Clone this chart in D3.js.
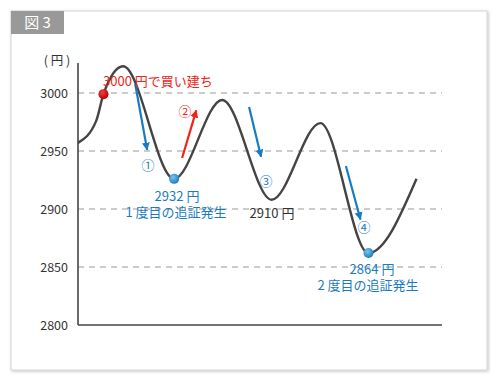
<!DOCTYPE html>
<html>
<head>
<meta charset="utf-8">
<script src="https://cdn.jsdelivr.net/npm/d3@7"></script>
<style>
  html, body { margin: 0; padding: 0; background: #fff; }
  svg { display: block; font-family: "Noto Sans CJK JP", "Noto Sans", sans-serif; }
</style>
</head>
<body>
<svg width="500" height="384"></svg>
<script>
"use strict";

// price path (time in arbitrary units, price in yen)
const pathTimes = [0, 5, 7, 12.4, 26.4, 39.6, 53.2, 66.6, 79.8, 93];
const pathPrices = [2957, 2976, 2999, 3023, 2926, 2994, 2908, 2974, 2862, 2926];

const yTicks = [2800, 2850, 2900, 2950, 3000];
const gridTicks = [2850, 2900, 2950, 3000];

// marked points: buy point and margin calls
const buyPoint = { t: 7, v: 2999 };
const callPoints = [{ t: 26.4, v: 2926 }, { t: 79.8, v: 2862 }];

// arrows [t0, v0, t1, v1, colour]
const arrows = [
  [15.7, 3008, 19, 2951, "#1a7cc0"],
  [28.6, 2944, 32.5, 2985, "#f02418"],
  [47, 2988, 50.3, 2945, "#1a7cc0"],
  [73.6, 2937, 77.6, 2891, "#1a7cc0"]
];

const svg = d3.select("svg");

const x = d3.scaleLinear().domain([0, 100]).range([78, 442]);
const y = d3.scaleLinear().domain([2800, 3000]).range([325, 93]);

const defs = svg.append("defs");
const shadow = defs.append("filter").attr("id", "shadow")
  .attr("x", "-5%").attr("y", "-5%").attr("width", "110%").attr("height", "110%");
shadow.append("feDropShadow").attr("dx", 1).attr("dy", 1).attr("stdDeviation", 1.5)
  .attr("flood-color", "#000").attr("flood-opacity", 0.25);

const grad = defs.append("radialGradient").attr("id", "blueDot")
  .attr("cx", "40%").attr("cy", "35%").attr("r", "65%");
grad.append("stop").attr("offset", "0%").attr("stop-color", "#7cc4f0");
grad.append("stop").attr("offset", "100%").attr("stop-color", "#1a7cc0");

const redGrad = defs.append("radialGradient").attr("id", "redDot")
  .attr("cx", "40%").attr("cy", "35%").attr("r", "65%");
redGrad.append("stop").attr("offset", "0%").attr("stop-color", "#f04040");
redGrad.append("stop").attr("offset", "100%").attr("stop-color", "#b80000");

["blue", "red"].forEach((name, i) => {
  defs.append("marker").attr("id", "head-" + name)
    .attr("viewBox", "0 0 10 10").attr("refX", 9).attr("refY", 5)
    .attr("markerWidth", 3.6).attr("markerHeight", 4.2)
    .attr("markerUnits", "strokeWidth").attr("orient", "auto")
    .append("path").attr("d", "M0,0 L10,5 L0,10 Z")
    .attr("fill", i === 0 ? "#1a7cc0" : "#f02418");
});

// panel
svg.append("rect").attr("x", 11).attr("y", 11).attr("width", 476).attr("height", 359)
  .attr("fill", "#fff").attr("stroke", "#d4d4d4").attr("filter", "url(#shadow)");
svg.append("rect").attr("x", 11).attr("y", 11).attr("width", 53).attr("height", 23)
  .attr("fill", "#999");
svg.append("text").attr("x", 37.5).attr("y", 28).attr("text-anchor", "middle")
  .attr("fill", "#fff").attr("font-size", 15).text("図 3");

// grid
svg.append("g").selectAll("line").data(gridTicks).enter().append("line")
  .attr("x1", x(0)).attr("x2", 442)
  .attr("y1", d => y(d)).attr("y2", d => y(d))
  .attr("stroke", "#999").attr("stroke-width", 1.2).attr("stroke-dasharray", "6,5");

// axes
const yAxis = d3.axisLeft(y).tickValues(yTicks).tickFormat(d3.format("d"))
  .tickSize(0).tickPadding(10);
const gy = svg.append("g").attr("transform", `translate(${x(0)},0)`).call(yAxis);
gy.select(".domain").remove();
gy.selectAll("text").attr("font-size", 12.5).attr("fill", "#333")
  .attr("font-family", "\"Noto Sans CJK JP\", sans-serif");

svg.append("line").attr("x1", x(0)).attr("x2", x(0)).attr("y1", 63).attr("y2", y(2800))
  .attr("stroke", "#444").attr("stroke-width", 1.6);
svg.append("line").attr("x1", x(0)).attr("x2", 442).attr("y1", y(2800)).attr("y2", y(2800))
  .attr("stroke", "#444").attr("stroke-width", 1.6);

svg.append("text").attr("x", 57).attr("y", 65).attr("text-anchor", "middle")
  .attr("font-size", 12.5).attr("fill", "#333").text("( 円 )");

// price curve
const line = d3.line().x(d => x(d[0])).y(d => y(d[1])).curve(d3.curveMonotoneX);
svg.append("path").datum(d3.zip(pathTimes, pathPrices))
  .attr("d", line).attr("fill", "none").attr("stroke", "#444").attr("stroke-width", 2.4);

// arrows
svg.append("g").selectAll("line").data(arrows).enter().append("line")
  .attr("x1", d => x(d[0])).attr("y1", d => y(d[1]))
  .attr("x2", d => x(d[2])).attr("y2", d => y(d[3]))
  .attr("stroke", d => d[4]).attr("stroke-width", 2.2)
  .attr("marker-end", d => d[4] === "#f02418" ? "url(#head-red)" : "url(#head-blue)");

// dots
svg.append("circle").attr("cx", x(buyPoint.t)).attr("cy", y(buyPoint.v)).attr("r", 5)
  .attr("fill", "url(#redDot)");
svg.append("g").selectAll("circle").data(callPoints).enter().append("circle")
  .attr("cx", d => x(d.t)).attr("cy", d => y(d.v)).attr("r", 5)
  .attr("fill", "url(#blueDot)");

// annotations
const notes = [
  { x: 103, y: 86, a: "start", c: "#f02418", t: "3000 円で買い建ち" },
  { x: 148, y: 170, a: "middle", c: "#1a7cc0", t: "①" },
  { x: 185, y: 116, a: "middle", c: "#f02418", t: "②" },
  { x: 266, y: 186, a: "middle", c: "#1a7cc0", t: "③" },
  { x: 364, y: 232, a: "middle", c: "#1a7cc0", t: "④" },
  { x: 177, y: 201, a: "middle", c: "#1a7cc0", t: "2932 円" },
  { x: 176, y: 217, a: "middle", c: "#1a7cc0", t: "1 度目の追証発生" },
  { x: 272, y: 218, a: "middle", c: "#333", t: "2910 円" },
  { x: 372, y: 274, a: "middle", c: "#1a7cc0", t: "2864 円" },
  { x: 368, y: 290, a: "middle", c: "#1a7cc0", t: "2 度目の追証発生" }
];
svg.append("g").selectAll("text").data(notes).enter().append("text")
  .attr("x", d => d.x).attr("y", d => d.y).attr("text-anchor", d => d.a)
  .attr("fill", d => d.c).attr("font-size", 13).text(d => d.t);
</script>
</body>
</html>
